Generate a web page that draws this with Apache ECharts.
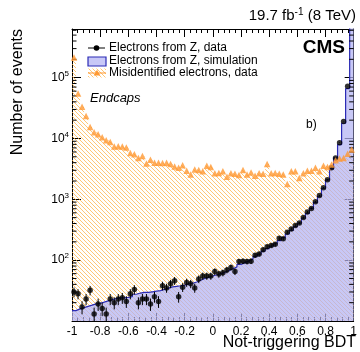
<!DOCTYPE html>
<html><head><meta charset="utf-8">
<script src="https://cdn.jsdelivr.net/npm/echarts@6/dist/echarts.min.js"></script>
<style>html,body{margin:0;padding:0;background:#fff}#c{width:360px;height:352px}</style>
</head><body><div id="c"></div>
<script>
// ---- data ----
const nBins = 70;
const xMin = -1, xMax = 1;
// Misidentified electrons, data (orange triangles / hatched histogram)
const misidData = [214000,55000,33100,23400,15500,12600,11750,10470,9330,8710,
  7410,7450,7400,7080,5750,5500,4790,5130,3890,4470,
  3980,3990,3970,3980,3800,3470,3310,3630,2950,2570,
  3090,3020,2880,3550,3390,2690,2700,2880,2340,2690,
  2630,2510,3020,2570,2750,2450,2690,2630,3800,2690,
  2700,2630,2570,1780,2880,2890,2240,2690,2950,2950,
  3310,2880,3550,3390,3720,4370,4680,4790,5620,6610];
// Electrons from Z, simulation (filled histogram)
const simData = [14.8,15.8,16.6,17.4,18.2,19.1,19.5,20.4,21.4,22.4,
  23.4,24.0,24.0,24.5,25.1,27.5,28.8,29.5,29.5,30.2,
  30.9,31.6,33.1,34.7,36.3,37.2,38.0,38.9,40.7,41.7,
  43.7,46.8,50.1,52.5,55.0,57.5,60.3,63.1,67.6,72.4,
  77.6,85.1,91.2,97.7,105,115,126,141,155,170,
  186,209,234,269,309,355,407,490,589,708,
  891,1122,1514,2089,3162,4786,7943,17780,66070,1260000];
// Electrons from Z, data (black points)
const zData = [30,28,17,23,32,13,19,16,13,23,
  20,23,24,21,28,33,20,23,23,19,
  25,21,38,35,41,46,25,36,43,41,
  35,49,55,55,55,65,59,62,69,76,
  65,95,96,95,96,120,126,148,166,174,
  182,229,225,288,324,372,407,501,617,708,
  912,1150,1550,2090,3310,4790,8510,19050,72400,1200000];
const yMinorTicks = [20,30,40,50,60,70,80,90,200,300,400,500,600,700,800,900,
  2000,3000,4000,5000,6000,7000,8000,9000,20000,30000,40000,50000,60000,70000,80000,90000,
  200000,300000,400000,500000,600000];
const legendLabels = ['Electrons from Z, data','Electrons from Z, simulation','Misidentified electrons, data'];

// ---- helpers ----
const binWidth = (xMax - xMin) / nBins;
const edges = Array.from({length: nBins + 1}, (_, i) => xMin + i * binWidth);
const centers = edges.slice(0, -1).map(e => e + binWidth / 2);
function stepData(vals) {
  const d = vals.map((v, i) => [edges[i], v]);
  d.push([edges[nBins], vals[nBins - 1]]);
  return d;
}
function hatch(color) {
  const c = document.createElement('canvas'); c.width = 4; c.height = 4;
  const g = c.getContext('2d');
  g.strokeStyle = color; g.lineWidth = 0.75;
  g.beginPath();
  g.moveTo(-1, -1); g.lineTo(5, 5);
  g.moveTo(-1, 3); g.lineTo(1, 5);
  g.moveTo(3, -1); g.lineTo(5, 1);
  g.stroke();
  return c;
}
const FONT = '"Liberation Sans", Arial, Helvetica, sans-serif';
const ORANGE = '#ff9933';
const HATCH = '#ffb347';
const SIMFILL = '#b3b3f3';
const SIMLINE = '#2b2bb5';
const hatchCanvas = hatch(HATCH);

const chart = echarts.init(document.getElementById('c'), null, {renderer: 'canvas'});

const xAxisBase = {
  type: 'value', min: xMin, max: xMax, interval: 0.2,
  axisLine: {show: true, onZero: false, lineStyle: {color: '#000', width: 1}},
  axisTick: {show: true, inside: true, length: 8, lineStyle: {color: '#000', width: 1}},
  minorTick: {show: true, splitNumber: 5, length: 4, lineStyle: {color: '#000', width: 1}},
  splitLine: {show: false}, minorSplitLine: {show: false}
};
const yAxisBase = {
  type: 'log', logBase: 10, min: 10, max: 630000,
  axisLine: {show: true, onZero: false, lineStyle: {color: '#000', width: 1}},
  axisTick: {show: true, inside: true, length: 9, lineStyle: {color: '#000', width: 1}},
  splitLine: {show: false}
};

chart.setOption({
  animation: false,
  backgroundColor: '#fff',
  grid: {left: 72, right: 4, top: 29, bottom: 31, containLabel: false},
  xAxis: [
    Object.assign({}, xAxisBase, {position: 'bottom',
      axisLabel: {show: true, color: '#000', fontSize: 12, fontFamily: FONT, margin: 5, showMinLabel: true, showMaxLabel: true}}),
    Object.assign({}, xAxisBase, {position: 'top', axisLabel: {show: false}})
  ],
  yAxis: [
    Object.assign({}, yAxisBase, {position: 'left',
      axisLabel: {show: true, margin: 3, showMinLabel: false, showMaxLabel: false,
        formatter: v => '{b|10}{s|' + Math.round(Math.log10(v)) + '}',
        rich: {b: {fontSize: 12, fontFamily: FONT, color: '#000', lineHeight: 16},
               s: {fontSize: 8, fontFamily: FONT, color: '#000', verticalAlign: 'top', lineHeight: 8}}}}),
    Object.assign({}, yAxisBase, {position: 'right', axisLabel: {show: false}})
  ],
  series: [
    {type: 'line', name: legendLabels[2], step: 'end', data: stepData(misidData),
     symbol: 'none', clip: true, lineStyle: {width: 0, opacity: 0},
     areaStyle: {color: {image: hatchCanvas, repeat: 'repeat'}, opacity: 1, origin: 'start'}, z: 1},
    {type: 'line', name: legendLabels[1], step: 'end', data: stepData(simData),
     symbol: 'none', clip: true, lineStyle: {color: SIMLINE, width: 1.2},
     areaStyle: {color: SIMFILL, opacity: 0.72, origin: 'start'}, z: 2},
    {type: 'custom', data: yMinorTicks.map(v => [0, v]), clip: false, silent: true, z: 5,
     encode: {x: 0, y: 1},
     renderItem: (params, api) => {
       const pl = api.coord([xMin, api.value(1)]);
       const pr = api.coord([xMax, api.value(1)]);
       const st = {stroke: '#000', lineWidth: 1};
       return {type: 'group', children: [
         {type: 'line', shape: {x1: pl[0], y1: pl[1], x2: pl[0] + 4.5, y2: pl[1]}, style: st},
         {type: 'line', shape: {x1: pr[0], y1: pr[1], x2: pr[0] - 4.5, y2: pr[1]}, style: st}
       ]};
     }},
    {type: 'custom', data: zData.map((n, i) => [centers[i], n, n - Math.sqrt(n), n + Math.sqrt(n)]),
     clip: true, silent: true, z: 6, encode: {x: 0, y: 1},
     renderItem: (params, api) => {
       const lo = api.coord([api.value(0), api.value(2)]);
       const hi = api.coord([api.value(0), api.value(3)]);
       return {type: 'line', shape: {x1: lo[0], y1: lo[1], x2: hi[0], y2: hi[1]},
               style: {stroke: '#000', lineWidth: 1}};
     }},
    {type: 'scatter', name: legendLabels[0], data: zData.map((n, i) => [centers[i], n]), clip: true,
     symbol: 'circle', symbolSize: 5.5, itemStyle: {color: '#000'}, z: 7},
    {type: 'scatter', data: misidData.map((n, i) => [centers[i], n]), clip: true,
     symbol: 'triangle', symbolSize: 6.5, itemStyle: {color: ORANGE}, z: 8}
  ],
  graphic: [
    {type: 'text', x: 18, y: 29, rotation: Math.PI / 2,
     style: {text: 'Number of events', font: '16px ' + FONT, fill: '#000', align: 'right', verticalAlign: 'middle', textAlign: 'right', textVerticalAlign: 'middle'}},
    {type: 'text', x: 356, y: 343,
     style: {text: 'Not-triggering BDT', font: '16px ' + FONT, fill: '#000', align: 'right', verticalAlign: 'middle', textAlign: 'right', textVerticalAlign: 'middle'}},
    {type: 'text', x: 356, y: 16,
     style: {text: '{a|19.7 fb}{s|-1}{a| (8 TeV)}', align: 'right', verticalAlign: 'middle', textAlign: 'right', textVerticalAlign: 'middle',
       rich: {a: {fontSize: 15, fontFamily: FONT, color: '#000', lineHeight: 18},
              s: {fontSize: 10, fontFamily: FONT, color: '#000', verticalAlign: 'top', lineHeight: 10}}}},
    {type: 'text', x: 345, y: 48,
     style: {text: 'CMS', font: 'bold 19px ' + FONT, fill: '#000', align: 'right', verticalAlign: 'middle', textAlign: 'right', textVerticalAlign: 'middle'}},
    {type: 'text', x: 90, y: 98,
     style: {text: 'Endcaps', font: 'italic 13px ' + FONT, fill: '#000', align: 'left', verticalAlign: 'middle', textAlign: 'left', textVerticalAlign: 'middle'}},
    {type: 'text', x: 306, y: 125,
     style: {text: 'b)', font: '12px ' + FONT, fill: '#000', align: 'left', verticalAlign: 'middle', textAlign: 'left', textVerticalAlign: 'middle'}},
    // legend
    {type: 'line', shape: {x1: 88, y1: 48, x2: 105, y2: 48}, style: {stroke: '#000', lineWidth: 1}},
    {type: 'circle', shape: {cx: 96.5, cy: 48, r: 2.8}, style: {fill: '#000'}},
    {type: 'rect', shape: {x: 88, y: 57, width: 18, height: 9}, style: {fill: '#c8c8f7', stroke: SIMLINE, lineWidth: 1.2}},
    {type: 'rect', shape: {x: 88, y: 68.5, width: 18, height: 9}, style: {fill: {image: hatchCanvas, repeat: 'repeat'}}},
    {type: 'line', shape: {x1: 88, y1: 73, x2: 106, y2: 73}, style: {stroke: ORANGE, lineWidth: 1}},
    {type: 'polygon', shape: {points: [[97, 69.8], [100.3, 75.6], [93.7, 75.6]]}, style: {fill: ORANGE}},
    {type: 'text', x: 109, y: 48, style: {text: legendLabels[0], font: '12px ' + FONT, fill: '#000', align: 'left', verticalAlign: 'middle', textAlign: 'left', textVerticalAlign: 'middle'}},
    {type: 'text', x: 109, y: 61, style: {text: legendLabels[1], font: '12px ' + FONT, fill: '#000', align: 'left', verticalAlign: 'middle', textAlign: 'left', textVerticalAlign: 'middle'}},
    {type: 'text', x: 109, y: 73, style: {text: legendLabels[2], font: '12px ' + FONT, fill: '#000', align: 'left', verticalAlign: 'middle', textAlign: 'left', textVerticalAlign: 'middle'}}
  ]
});
</script></body></html>
